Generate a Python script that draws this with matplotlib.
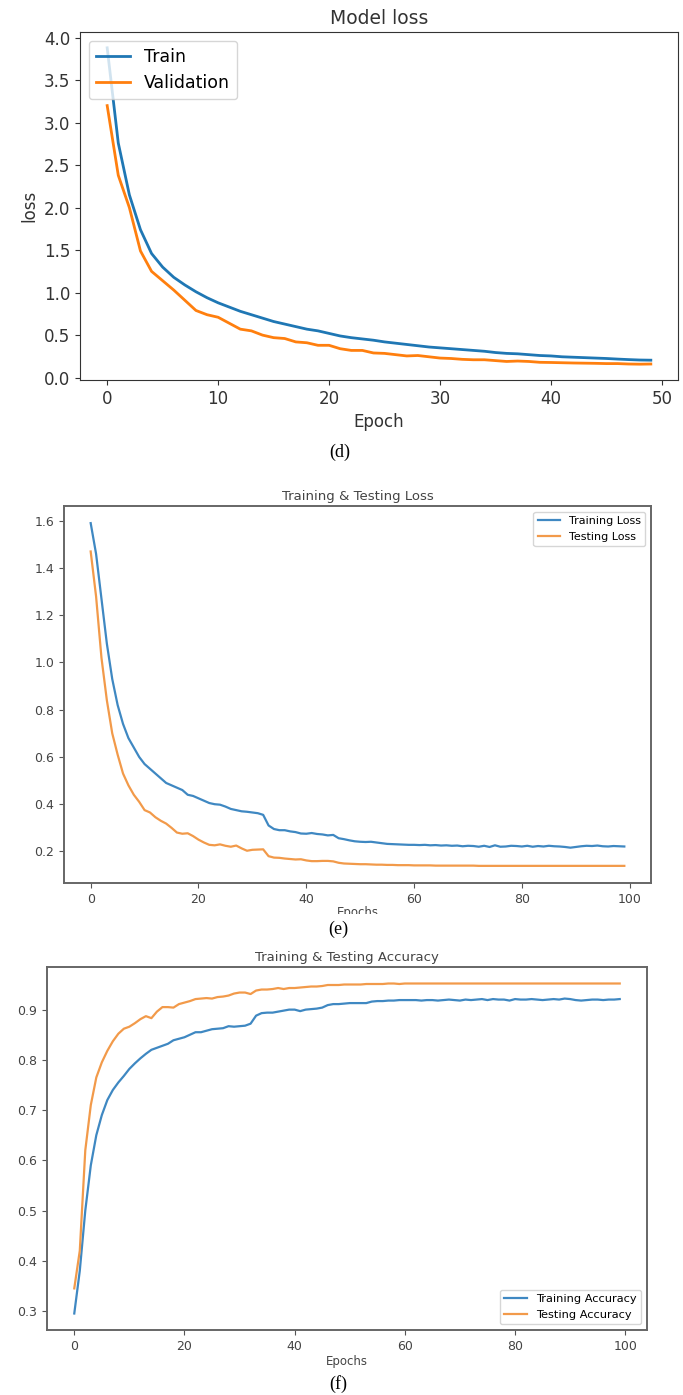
import matplotlib
matplotlib.use("Agg")
import matplotlib.pyplot as plt
from matplotlib.patches import Rectangle

# (d) Model loss, 50 epochs
epochs_d = list(range(50))
train_d = [3.88, 2.76, 2.15, 1.74, 1.46, 1.30, 1.18, 1.09, 1.01, 0.94,
           0.88, 0.83, 0.78, 0.74, 0.70, 0.66, 0.63, 0.60, 0.57, 0.55,
           0.52, 0.49, 0.47, 0.455, 0.44, 0.42, 0.405, 0.39, 0.375, 0.36,
           0.35, 0.34, 0.33, 0.32, 0.31, 0.295, 0.285, 0.28, 0.27, 0.26,
           0.255, 0.245, 0.24, 0.235, 0.23, 0.225, 0.218, 0.212, 0.207, 0.205]
val_d = [3.20, 2.38, 2.00, 1.49, 1.25, 1.14, 1.03, 0.91, 0.79, 0.74,
         0.71, 0.64, 0.57, 0.55, 0.50, 0.47, 0.46, 0.42, 0.41, 0.38,
         0.38, 0.34, 0.32, 0.32, 0.29, 0.285, 0.27, 0.255, 0.26, 0.245,
         0.23, 0.225, 0.215, 0.21, 0.21, 0.20, 0.19, 0.195, 0.19, 0.18,
         0.178, 0.175, 0.172, 0.17, 0.168, 0.165, 0.165, 0.16, 0.158, 0.16]

# (e) Training & Testing Loss, 100 epochs
epochs_e = list(range(100))
train_loss = [1.59, 1.46, 1.27, 1.08, 0.93, 0.82, 0.74, 0.68, 0.64, 0.60,
              0.57, 0.55, 0.53, 0.51, 0.49, 0.48, 0.47, 0.46, 0.44, 0.435,
              0.425, 0.415, 0.405, 0.40, 0.398, 0.39, 0.38, 0.375, 0.37, 0.368,
              0.365, 0.362, 0.355, 0.31, 0.295, 0.29, 0.29, 0.285, 0.282, 0.276,
              0.275, 0.278, 0.274, 0.272, 0.268, 0.27, 0.256, 0.252, 0.247, 0.243,
              0.241, 0.24, 0.241, 0.238, 0.235, 0.232, 0.231, 0.23, 0.229, 0.228,
              0.228, 0.227, 0.228, 0.226, 0.227, 0.225, 0.226, 0.224, 0.225, 0.222,
              0.224, 0.223, 0.22, 0.224, 0.219, 0.226, 0.22, 0.221, 0.224, 0.223,
              0.221, 0.224, 0.22, 0.223, 0.221, 0.224, 0.222, 0.221, 0.219, 0.216,
              0.219, 0.222, 0.224, 0.223, 0.225, 0.222, 0.221, 0.223, 0.222, 0.221]
test_loss = [1.47, 1.28, 1.02, 0.84, 0.70, 0.61, 0.53, 0.48, 0.44, 0.41,
             0.375, 0.365, 0.345, 0.33, 0.318, 0.30, 0.28, 0.275, 0.277, 0.265,
             0.25, 0.238, 0.228, 0.226, 0.23, 0.224, 0.22, 0.225, 0.213, 0.203,
             0.207, 0.208, 0.209, 0.18, 0.174, 0.173, 0.17, 0.168, 0.166, 0.167,
             0.162, 0.159, 0.159, 0.16, 0.16, 0.158, 0.152, 0.149, 0.148, 0.147,
             0.146, 0.146, 0.145, 0.144, 0.144, 0.143, 0.143, 0.142, 0.142, 0.142,
             0.141, 0.141, 0.141, 0.141, 0.14, 0.14, 0.14, 0.14, 0.14, 0.14,
             0.14, 0.14, 0.139, 0.139, 0.139, 0.139, 0.139, 0.139, 0.139, 0.139,
             0.139, 0.139, 0.139, 0.139, 0.139, 0.139, 0.139, 0.139, 0.139, 0.139,
             0.139, 0.139, 0.139, 0.139, 0.139, 0.139, 0.139, 0.139, 0.139, 0.139]

# (f) Training & Testing Accuracy, 100 epochs
train_acc = [0.295, 0.38, 0.50, 0.59, 0.65, 0.69, 0.72, 0.74, 0.755, 0.768,
             0.782, 0.793, 0.803, 0.812, 0.82, 0.824, 0.828, 0.832, 0.839, 0.842,
             0.845, 0.85, 0.855, 0.855, 0.858, 0.861, 0.862, 0.863, 0.867, 0.866,
             0.867, 0.868, 0.872, 0.888, 0.893, 0.894, 0.894, 0.896, 0.898, 0.9,
             0.9, 0.897, 0.9, 0.901, 0.902, 0.904, 0.909, 0.911, 0.911, 0.912,
             0.913, 0.913, 0.913, 0.913, 0.916, 0.917, 0.917, 0.918, 0.918, 0.919,
             0.919, 0.919, 0.919, 0.918, 0.919, 0.919, 0.918, 0.919, 0.92, 0.919,
             0.918, 0.92, 0.919, 0.92, 0.921, 0.919, 0.921, 0.92, 0.92, 0.918,
             0.921, 0.92, 0.92, 0.921, 0.92, 0.919, 0.92, 0.921, 0.92, 0.922,
             0.921, 0.919, 0.918, 0.919, 0.92, 0.92, 0.919, 0.92, 0.92, 0.921]
test_acc = [0.345, 0.42, 0.62, 0.71, 0.765, 0.795, 0.818, 0.837, 0.852, 0.862,
            0.866, 0.873, 0.881, 0.887, 0.883, 0.896, 0.905, 0.905, 0.904, 0.911,
            0.914, 0.917, 0.921, 0.922, 0.923, 0.922, 0.925, 0.926, 0.928, 0.932,
            0.934, 0.934, 0.931, 0.938, 0.94, 0.94, 0.941, 0.943, 0.941, 0.943,
            0.943, 0.944, 0.945, 0.946, 0.946, 0.947, 0.949, 0.949, 0.949, 0.95,
            0.95, 0.95, 0.95, 0.951, 0.951, 0.951, 0.951, 0.952, 0.952, 0.951,
            0.952, 0.952, 0.952, 0.952, 0.952, 0.952, 0.952, 0.952, 0.952, 0.952,
            0.952, 0.952, 0.952, 0.952, 0.952, 0.952, 0.952, 0.952, 0.952, 0.952,
            0.952, 0.952, 0.952, 0.952, 0.952, 0.952, 0.952, 0.952, 0.952, 0.952,
            0.952, 0.952, 0.952, 0.952, 0.952, 0.952, 0.952, 0.952, 0.952, 0.952]

W, H = 683, 1395
fig = plt.figure(figsize=(W / 100, H / 100), dpi=100)


def box(l, t, r, b):
    return [l / W, 1 - b / H, (r - l) / W, (b - t) / H]


blue, orange = "#1f77b4", "#ff7f0e"
blue2, orange2 = "#3f88c2", "#f29a4a"
txt = "#333333"
grey = "#444444"

# panel (d)
ax1 = fig.add_axes(box(80, 32, 678, 380))
ax1.plot(epochs_d, train_d, color=blue, lw=2.0, label="Train")
ax1.plot(epochs_d, val_d, color=orange, lw=2.0, label="Validation")
ax1.set_title("Model loss", fontsize=13.5, color=txt)
ax1.set_xlabel("Epoch", fontsize=12, color=txt)
ax1.set_ylabel("loss", fontsize=12, color=txt)
ax1.set_xticks([0, 10, 20, 30, 40, 50])
ax1.set_yticks([0.0, 0.5, 1.0, 1.5, 2.0, 2.5, 3.0, 3.5, 4.0])
ax1.tick_params(labelsize=12, labelcolor=txt, color=txt)
ax1.legend(loc="upper left", fontsize=12.5)
for s in ax1.spines.values():
    s.set_color(txt)

# panel (e)
ax2 = fig.add_axes(box(64, 506, 651, 883))
ax2.plot(epochs_e, train_loss, color=blue2, lw=1.6, label="Training Loss")
ax2.plot(epochs_e, test_loss, color=orange2, lw=1.6, label="Testing Loss")
ax2.set_title("Training & Testing Loss", fontsize=9.5, color=grey, pad=4)
ax2.set_xlabel("Epochs", fontsize=8.5, color=grey, labelpad=0)
ax2.set_xticks([0, 20, 40, 60, 80, 100])
ax2.set_yticks([0.2, 0.4, 0.6, 0.8, 1.0, 1.2, 1.4, 1.6])
ax2.tick_params(labelsize=9, labelcolor=grey, color="#555555")
ax2.legend(loc="upper right", fontsize=8)
for s in ax2.spines.values():
    s.set_color("#666666")
    s.set_linewidth(1.4)

# panel (f)
ax3 = fig.add_axes(box(47, 967, 647, 1330))
ax3.plot(epochs_e, train_acc, color=blue2, lw=1.6, label="Training Accuracy")
ax3.plot(epochs_e, test_acc, color=orange2, lw=1.6, label="Testing Accuracy")
ax3.set_title("Training & Testing Accuracy", fontsize=9.5, color=grey, pad=4)
ax3.set_xlabel("Epochs", fontsize=8.5, color=grey, labelpad=2)
ax3.set_xticks([0, 20, 40, 60, 80, 100])
ax3.set_yticks([0.3, 0.4, 0.5, 0.6, 0.7, 0.8, 0.9])
ax3.tick_params(labelsize=9, labelcolor=grey, color="#555555")
ax3.legend(loc="lower right", fontsize=8.2)
for s in ax3.spines.values():
    s.set_color("#666666")
    s.set_linewidth(1.4)

# white band hiding the bottom of the (e) x label, as in the source figure
fig.patches.append(Rectangle((0, 1 - 937 / H), 1, 23 / H, transform=fig.transFigure,
                             facecolor="white", edgecolor="none", zorder=5))

serif = ["Liberation Serif", "DejaVu Serif"]
fig.text(340 / W, 1 - 452 / H, "(d)", ha="center", va="center", fontsize=13, family=serif)
fig.text(338 / W, 1 - 929 / H, "(e)", ha="center", va="center", fontsize=13, family=serif, zorder=6)
fig.text(338 / W, 1 - 1384 / H, "(f)", ha="center", va="center", fontsize=13, family=serif)

fig.savefig("out.png", dpi=100)
